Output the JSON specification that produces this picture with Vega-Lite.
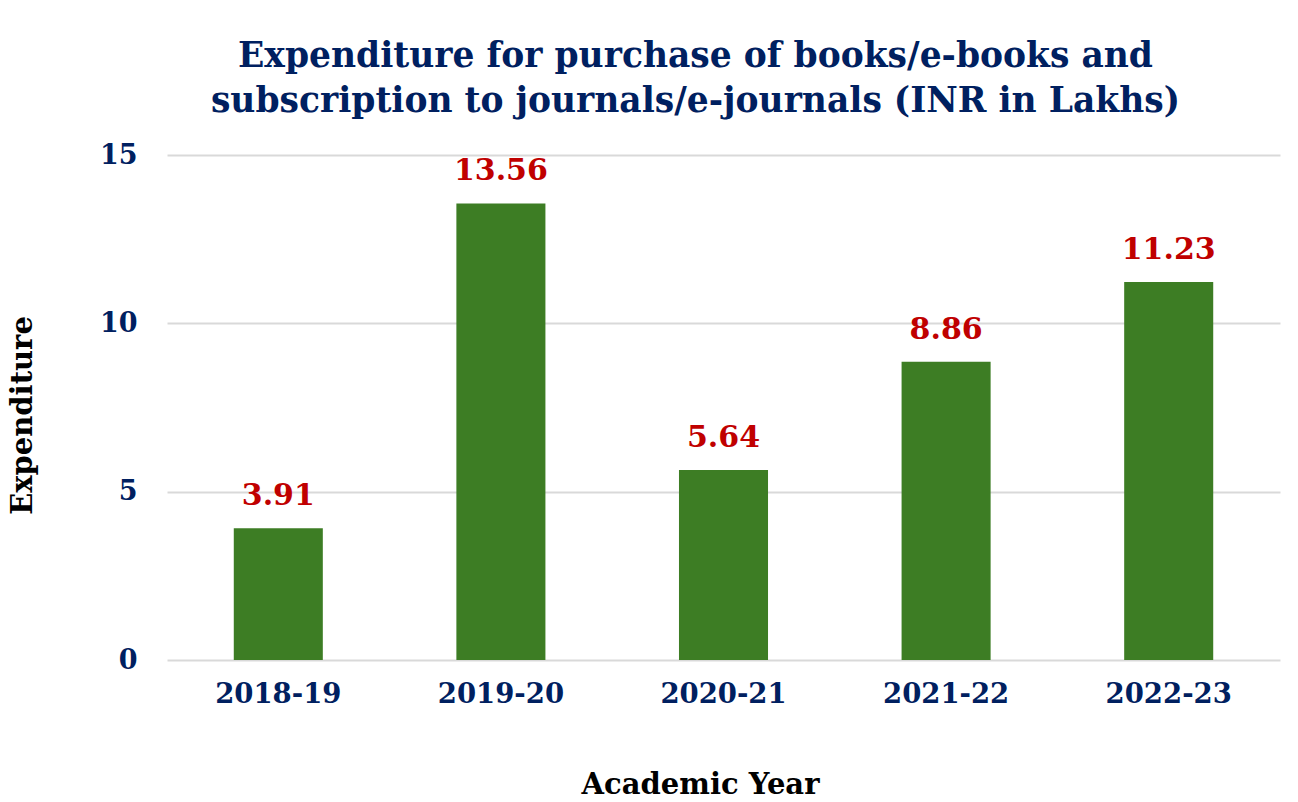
{
  "$schema": "https://vega.github.io/schema/vega-lite/v6.json",
  "autosize": {"type": "none"},
  "width": 1113,
  "height": 505,
  "padding": {"left": 167, "top": 155, "right": 18, "bottom": 142},
  "background": "white",
  "config": {"view": {"stroke": null}, "font": "DejaVu Serif"},
  "title": {
    "text": ["Expenditure for purchase of books/e-books and", "subscription to journals/e-journals (INR in Lakhs)"],
    "font": "DejaVu Serif",
    "fontSize": 34.5,
    "fontWeight": "bold",
    "color": "#002060",
    "anchor": "middle",
    "frame": "group",
    "dx": -28,
    "lineHeight": 45,
    "offset": 22
  },
  "data": {
    "values": [
      {"year": "2018-19", "value": 3.91},
      {"year": "2019-20", "value": 13.56},
      {"year": "2020-21", "value": 5.64},
      {"year": "2021-22", "value": 8.86},
      {"year": "2022-23", "value": 11.23}
    ]
  },
  "encoding": {
    "x": {
      "field": "year",
      "type": "nominal",
      "sort": null,
      "scale": {"paddingInner": 0.6, "paddingOuter": 0.3},
      "axis": {
        "title": "Academic Year",
        "titleFont": "DejaVu Serif",
        "titleFontSize": 29,
        "titleFontWeight": "bold",
        "titleColor": "black",
        "titleX": 533,
        "titleY": 124,
        "titleAlign": "center",
        "titleBaseline": "middle",
        "labelAngle": 0,
        "labelFont": "DejaVu Serif",
        "labelFontSize": 27.5,
        "labelFontWeight": "bold",
        "labelColor": "#002060",
        "labelPadding": 20,
        "ticks": false,
        "domain": false
      }
    },
    "y": {
      "field": "value",
      "type": "quantitative",
      "scale": {"domain": [0, 15]},
      "axis": {
        "title": "Expenditure",
        "titleFont": "DejaVu Serif",
        "titleFontSize": 29,
        "titleFontWeight": "bold",
        "titleColor": "black",
        "titleAngle": -90,
        "titleX": -145,
        "titleY": 260,
        "titleAlign": "center",
        "titleBaseline": "middle",
        "values": [0, 5, 10, 15],
        "labelFont": "DejaVu Serif",
        "labelFontSize": 27,
        "labelFontWeight": "bold",
        "labelColor": "#002060",
        "labelPadding": 30,
        "ticks": false,
        "domain": false,
        "grid": true,
        "gridColor": "#d9d9d9",
        "gridWidth": 2
      }
    }
  },
  "layer": [
    {"mark": {"type": "bar", "color": "#3d7d24"}},
    {
      "mark": {"type": "text", "baseline": "bottom", "dy": -17, "font": "DejaVu Serif", "fontSize": 30, "fontWeight": "bold", "color": "#c00000"},
      "encoding": {"text": {"field": "value", "type": "quantitative", "format": ".2f"}}
    }
  ]
}
